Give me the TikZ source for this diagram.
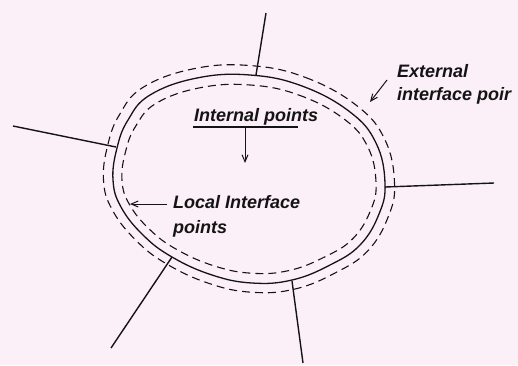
\documentclass[tikz,border=0pt]{standalone}
\usepackage{fontspec}
\setmainfont{Liberation Sans}
\usetikzlibrary{arrows.meta}
\definecolor{bgpink}{RGB}{252,240,248}
\definecolor{ink}{RGB}{20,20,20}
\begin{document}
\begin{tikzpicture}[x=1pt,y=-1pt,
  solidline/.style={draw=ink,line width=1.3pt},
  dashline/.style={draw=ink,line width=1.1pt,dash pattern=on 8pt off 5pt},
  spoke/.style={draw=ink,line width=1.4pt},
  pointer/.style={draw=ink,line width=1pt,-{Straight Barb[length=7pt,width=6pt]}},
  lbl/.style={inner sep=0pt,anchor=base west,text=ink,font=\fontsize{18}{22}\selectfont\bfseries\itshape}]
\fill[bgpink] (0,0) rectangle (518,365);
\useasboundingbox (0,0) rectangle (518,365);
\def\blob{plot[smooth cycle,tension=0.7] coordinates{(250,75) (302,86) (350,112) (376,143) (385,183) (379,214) (360,245) (330,265) (292,280) (252,283) (212,275) (172,257) (143,235) (121,207) (113,180) (117,148) (128,120) (150,95) (197,78)}}
% solid boundary
\draw[solidline] \blob;
% outer dashed
\begin{scope}[shift={(249,180)},xscale=1.07,yscale=1.09,shift={(-249,-180)}]
\draw[dashline] \blob;
\end{scope}
% inner dashed
\begin{scope}[shift={(249,180)},xscale=0.934,yscale=0.905,shift={(-249,-180)}]
\draw[dashline] \blob;
\end{scope}
% spokes
\coordinate (t1) at (266,13);  \coordinate (t2) at (256,75);
\coordinate (l1) at (13,126);  \coordinate (l2) at (116,147);
\coordinate (r1) at (494,183); \coordinate (r2) at (385,187);
\coordinate (ll1) at (111,348); \coordinate (ll2) at (172,257);
\coordinate (b1) at (303,363); \coordinate (b2) at (292,281);
\draw[spoke] (t1) -- (t2);
\draw[spoke] (l1) -- (l2);
\draw[spoke] (r1) -- (r2);
\draw[spoke] (ll1) -- (ll2);
\draw[spoke] (b1) -- (b2);
% labels
\node[lbl] (ext1) at (397,77) {External};
\node[lbl] (ext2) at (397,100) {interface poir};
\node[lbl] (int) at (194,121) {Internal points};
\node[lbl] (loc1) at (173,208) {Local Interface};
\node[lbl] (loc2) at (173,233) {points};
% underline and arrows
\coordinate (u1) at (193,127); \coordinate (u2) at (298,127);
\draw[draw=ink,line width=1.1pt] (u1) -- (u2);
\coordinate (ua) at (245,127); \coordinate (ub) at (245,163);
\draw[pointer] (ua) -- (ub);
\coordinate (ea) at (387,80); \coordinate (eb) at (370,102);
\draw[pointer] (ea) -- (eb);
\coordinate (la) at (167,204); \coordinate (lb) at (130,204);
\draw[pointer] (la) -- (lb);
\end{tikzpicture}
\end{document}
